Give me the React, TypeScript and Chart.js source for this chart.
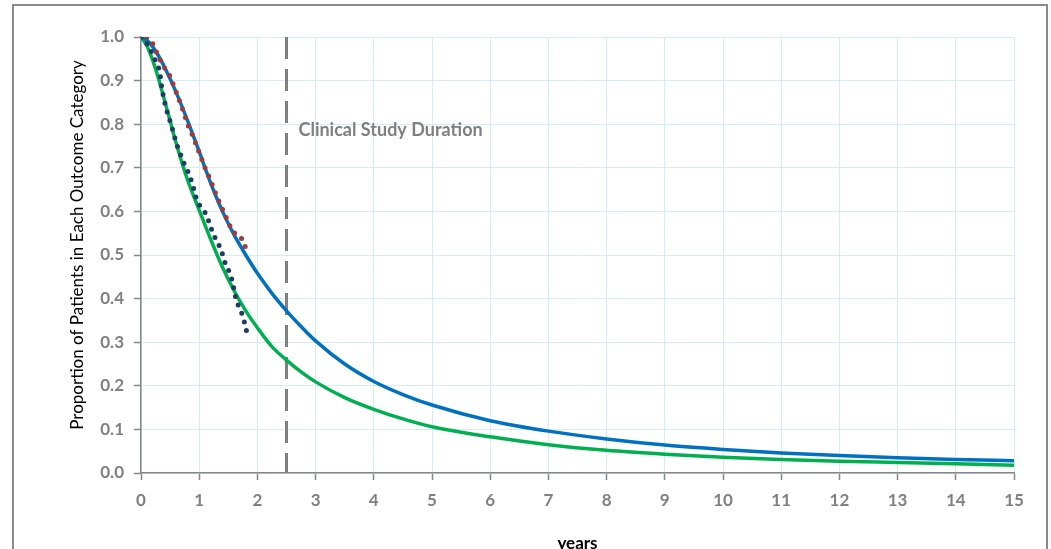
import React, { useEffect, useRef } from "react";
import { Chart, registerables } from "chart.js";
Chart.register(...registerables);

// Model curves (years -> proportion)
const years = [0, 0.1, 0.2, 0.3, 0.4, 0.5, 0.6, 0.8, 1.0, 1.2, 1.4, 1.6, 1.8, 2.0, 2.25, 2.5, 2.75, 3, 3.5, 4, 4.5, 5, 6, 7, 8, 9, 10, 11, 12, 13, 14, 15];
const modelBlue = [1.0, 0.993, 0.978, 0.957, 0.932, 0.904, 0.874, 0.808, 0.737, 0.664, 0.6, 0.546, 0.5, 0.458, 0.412, 0.372, 0.336, 0.303, 0.25, 0.21, 0.18, 0.156, 0.12, 0.096, 0.078, 0.064, 0.054, 0.046, 0.04, 0.035, 0.031, 0.028];
const modelGreen = [1.0, 0.98, 0.947, 0.905, 0.857, 0.808, 0.758, 0.672, 0.603, 0.535, 0.472, 0.418, 0.372, 0.333, 0.29, 0.259, 0.232, 0.209, 0.173, 0.146, 0.124, 0.106, 0.083, 0.065, 0.052, 0.043, 0.036, 0.031, 0.027, 0.024, 0.021, 0.018];

// Observed (dotted) series
const redYears = [0.1, 0.2, 0.3, 0.4, 0.5, 0.6, 0.7, 0.8, 0.9, 1.0, 1.1, 1.2, 1.3, 1.4, 1.5, 1.575, 1.71, 1.79, 1.795];
const redValues = [1.0, 0.985, 0.955, 0.93, 0.91, 0.875, 0.84, 0.8, 0.77, 0.735, 0.7, 0.67, 0.635, 0.605, 0.575, 0.553, 0.542, 0.523, 0.5];
const navyYears = [0, 0.12, 0.2, 0.26, 0.32, 0.36, 0.43, 0.53, 0.61, 0.73, 0.83, 0.9, 0.94, 1.0, 1.12, 1.22, 1.29, 1.37, 1.46, 1.54, 1.6, 1.64, 1.71, 1.77, 1.79, 1.885];
const navyValues = [1.0, 0.982, 0.961, 0.942, 0.924, 0.88, 0.836, 0.794, 0.755, 0.713, 0.685, 0.655, 0.634, 0.615, 0.594, 0.556, 0.534, 0.515, 0.475, 0.456, 0.42, 0.393, 0.374, 0.352, 0.331, 0.313];

// Study duration marker
const studyDuration = 2.5;
const studyLabel = "Clinical Study Duration";
const studyLabelLevel = 0.787;

const xTickLabels = ["0", "1", "2", "3", "4", "5", "6", "7", "8", "9", "10", "11", "12", "13", "14", "15"];
const yTickLabels = ["0.0", "0.1", "0.2", "0.3", "0.4", "0.5", "0.6", "0.7", "0.8", "0.9", "1.0"];
const xTitle = "years";
const yTitle = "Proportion of Patients in Each Outcome Category";

const toPoints = (xs: number[], ys: number[]) => xs.map((x, i) => ({ x, y: ys[i] }));

const textPlugin = {
  id: "textPlugin",
  afterDatasetsDraw(chart: any) {
    const { ctx, scales } = chart;
    const x = scales.x;
    const y = scales.y;
    ctx.save();
    ctx.font = "bold 18px Lato";
    ctx.fillStyle = "#7f7f7f";
    ctx.textBaseline = "middle";
    ctx.textAlign = "left";
    ctx.fillText(studyLabel, x.getPixelForValue(studyDuration) + 12, y.getPixelForValue(studyLabelLevel));
    ctx.restore();

    ctx.save();
    ctx.font = "17px Lato";
    ctx.fillStyle = "#000000";
    ctx.textAlign = "center";
    ctx.textBaseline = "middle";
    ctx.translate(78, 245);
    ctx.rotate(-Math.PI / 2);
    ctx.fillText(yTitle, 0, 0);
    ctx.restore();
  },
};

export default function App() {
  const ref = useRef<HTMLCanvasElement | null>(null);
  useEffect(() => {
    if (!ref.current) return;
    const chart = new Chart(ref.current, {
      type: "line",
      data: {
        datasets: [
          {
            data: toPoints(navyYears, navyValues),
            borderColor: "#1f3a63",
            borderWidth: 5,
            borderDash: [0, 9],
            borderCapStyle: "round",
            pointRadius: 0,
            tension: 0,
            fill: false,
          },
          {
            data: toPoints(redYears, redValues),
            borderColor: "#a23b38",
            borderWidth: 5,
            borderDash: [0, 9],
            borderCapStyle: "round",
            pointRadius: 0,
            tension: 0,
            fill: false,
          },
          {
            data: toPoints(years, modelBlue),
            borderColor: "#0070c0",
            borderWidth: 3.5,
            pointRadius: 0,
            cubicInterpolationMode: "monotone",
            fill: false,
          },
          {
            data: toPoints(years, modelGreen),
            borderColor: "#00b050",
            borderWidth: 3.5,
            pointRadius: 0,
            cubicInterpolationMode: "monotone",
            fill: false,
          },
          {
            data: [
              { x: studyDuration, y: 1 },
              { x: studyDuration, y: 0 },
            ],
            borderColor: "#808080",
            borderWidth: 3,
            borderDash: [22, 10],
            pointRadius: 0,
            fill: false,
          },
        ],
      } as any,
      options: {
        responsive: false,
        animation: false,
        layout: { padding: { left: 0, top: 37, right: 37, bottom: 0 } },
        plugins: { legend: { display: false }, tooltip: { enabled: false } },
        scales: {
          x: {
            type: "linear",
            min: 0,
            max: 15,
            ticks: {
              stepSize: 1,
              autoSkip: false,
              maxRotation: 0,
              color: "#808080",
              padding: 10,
              font: { family: "Lato", weight: "bold", size: 17 },
              callback: (_v: any, i: number) => xTickLabels[i],
            },
            grid: { color: "#d4ebf8", lineWidth: 1, tickColor: "#868686", tickLength: 7, tickWidth: 1.5 },
            border: { color: "#868686", width: 1.5 },
            title: {
              display: true,
              text: xTitle,
              color: "#000000",
              font: { family: "Lato", weight: "bold", size: 17 },
              padding: { top: 0, bottom: -5 },
            },
            afterFit: (s: any) => {
              s.height = 76;
            },
          },
          y: {
            type: "linear",
            min: 0,
            max: 1,
            ticks: {
              stepSize: 0.1,
              autoSkip: false,
              color: "#808080",
              padding: 10,
              font: { family: "Lato", weight: "bold", size: 17 },
              callback: (_v: any, i: number) => yTickLabels[i],
            },
            grid: { color: "#d4ebf8", lineWidth: 1, tickColor: "#868686", tickLength: 7, tickWidth: 1.5 },
            border: { color: "#868686", width: 1.5 },
            afterFit: (s: any) => {
              s.width = 141;
            },
          },
        },
      } as any,
      plugins: [textPlugin],
    });
    return () => chart.destroy();
  }, []);

  return (
    <div style={{ position: "absolute", left: 0, top: 0, width: 1051, height: 549, overflow: "hidden", background: "#ffffff" }}>
      <div
        style={{
          position: "absolute",
          left: 12,
          top: 4,
          width: 1036,
          height: 600,
          boxSizing: "border-box",
          border: "2px solid #8a8a8a",
        }}
      />
      <canvas ref={ref} width={1051} height={549} style={{ position: "absolute", left: 0, top: 0, width: 1051, height: 549 }} />
    </div>
  );
}
